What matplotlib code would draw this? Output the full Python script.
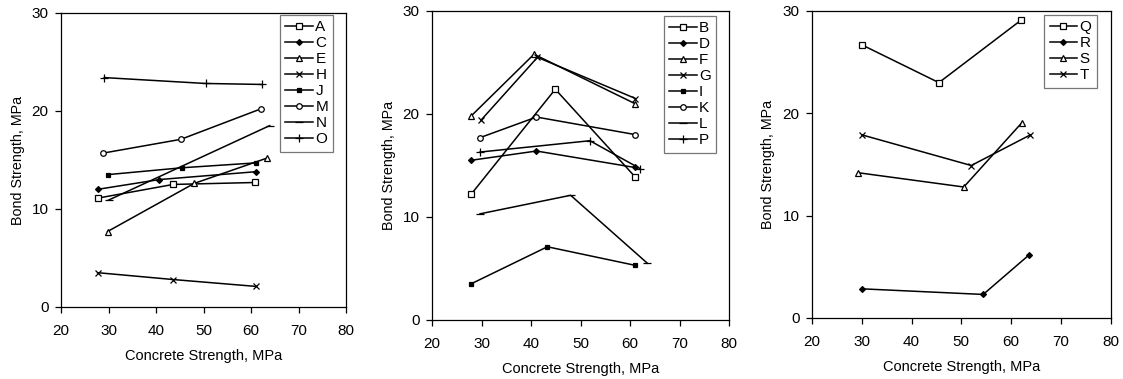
import matplotlib
matplotlib.use("Agg")
import matplotlib.pyplot as plt

plt.rcParams['font.family'] = ['Liberation Sans', 'DejaVu Sans']

# panel 1 series: (concrete strength, bond strength)
A_x = [27.7, 43.6, 60.9]; A_y = [11.1, 12.5, 12.7]
C_x = [27.7, 40.7, 61.0]; C_y = [12.0, 13.0, 13.8]
E_x = [29.8, 48.0, 63.4]; E_y = [7.7, 12.6, 15.2]
H_x = [27.7, 43.6, 61.0]; H_y = [3.5, 2.8, 2.1]
J_x = [29.8, 45.4, 61.0]; J_y = [13.5, 14.2, 14.7]
M_x = [28.9, 45.2, 62.0]; M_y = [15.7, 17.1, 20.2]
N_x = [30.0, 63.9]; N_y = [10.9, 18.5]
O_x = [29.1, 50.4, 62.3]; O_y = [23.4, 22.8, 22.7]

# panel 2 series
B_x = [27.9, 44.9, 61.0]; B_y = [12.2, 22.4, 13.9]
D_x = [27.9, 41.1, 61.0]; D_y = [15.5, 16.4, 14.8]
F_x = [27.9, 40.6, 61.0]; F_y = [19.8, 25.8, 21.0]
G_x = [29.9, 41.3, 61.1]; G_y = [19.4, 25.5, 21.5]
I_x = [27.9, 43.3, 61.0]; I_y = [3.5, 7.1, 5.3]
K_x = [29.7, 41.1, 61.0]; K_y = [17.7, 19.7, 18.0]
L_x = [29.7, 48.0, 63.5]; L_y = [10.3, 12.1, 5.5]
P_x = [29.7, 51.9, 62.0]; P_y = [16.3, 17.4, 14.7]

# panel 3 series
Q_x = [30.0, 45.5, 62.0]; Q_y = [26.7, 23.0, 29.1]
R_x = [30.0, 54.4, 63.7]; R_y = [2.85, 2.3, 6.2]
S_x = [29.2, 50.5, 62.2]; S_y = [14.2, 12.8, 19.1]
T_x = [30.0, 52.0, 63.9]; T_y = [17.9, 14.9, 17.9]

# marker styles: (marker, size, filled)
sq = ('s', 4, False)
dia = ('D', 3, True)
tri = ('^', 4.5, False)
cross = ('x', 5, False)
fsq = ('s', 3.5, True)
circ = ('o', 4, False)
dash = ('_', 6, False)
plus = ('+', 6, False)

panels = [
    [('A', A_x, A_y, sq), ('C', C_x, C_y, dia), ('E', E_x, E_y, tri),
     ('H', H_x, H_y, cross), ('J', J_x, J_y, fsq), ('M', M_x, M_y, circ),
     ('N', N_x, N_y, dash), ('O', O_x, O_y, plus)],
    [('B', B_x, B_y, sq), ('D', D_x, D_y, dia), ('F', F_x, F_y, tri),
     ('G', G_x, G_y, cross), ('I', I_x, I_y, fsq), ('K', K_x, K_y, circ),
     ('L', L_x, L_y, dash), ('P', P_x, P_y, plus)],
    [('Q', Q_x, Q_y, sq), ('R', R_x, R_y, dia), ('S', S_x, S_y, tri),
     ('T', T_x, T_y, cross)],
]

boxes = [
    [0.0543, 0.190, 0.254, 0.776],
    [0.3847, 0.156, 0.2645, 0.815],
    [0.723, 0.161, 0.266, 0.810],
]
legend_anchor = [(0.955, 0.993), (0.956, 0.984), (0.953, 0.987)]

fig = plt.figure(figsize=(11.23, 3.79), dpi=100)

for box, series, anchor in zip(boxes, panels, legend_anchor):
    ax = fig.add_axes(box)
    for name, xs, ys, (mk, ms, filled) in series:
        ax.plot(xs, ys, color='black', lw=1.1, marker=mk, markersize=ms,
                markerfacecolor='black' if filled else 'white',
                markeredgecolor='black', markeredgewidth=0.9, label=name)
    ax.set_xlim(20, 80)
    ax.set_ylim(0, 30)
    ax.set_xticks(range(20, 81, 10))
    ax.set_yticks([0, 10, 20, 30])
    ax.tick_params(direction='out', length=4, width=0.9, labelsize=11)
    ax.tick_params(axis='x', pad=8)
    ax.tick_params(axis='y', pad=5)
    for s in ax.spines.values():
        s.set_linewidth(0.9)
    ax.set_xlabel('Concrete Strength, MPa', fontsize=10.5, labelpad=8)
    ax.set_ylabel('Bond Strength, MPa', fontsize=10.3, labelpad=5)
    leg = ax.legend(loc='upper right', bbox_to_anchor=anchor, fontsize=11,
                    frameon=True, fancybox=False, edgecolor='#555555',
                    handlelength=1.8, handletextpad=0.15, labelspacing=0.13,
                    borderpad=0.35, borderaxespad=0.0)
    leg.get_frame().set_linewidth(0.9)

fig.savefig('out.png', dpi=100)
